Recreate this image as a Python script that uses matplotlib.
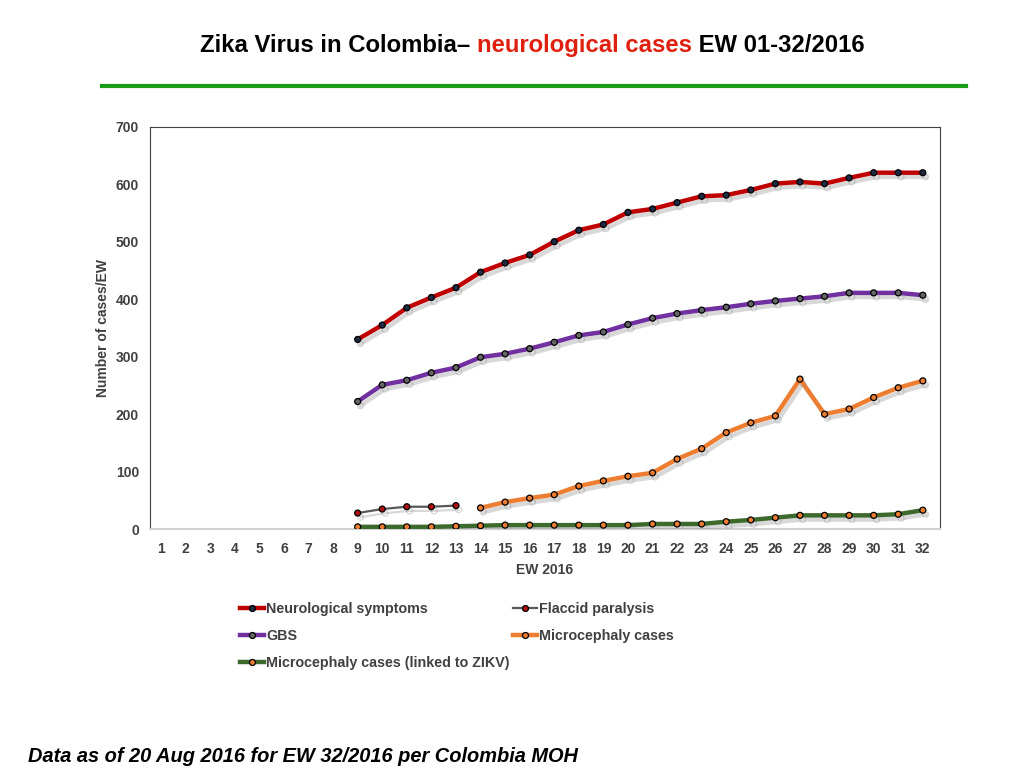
import numpy as np
import matplotlib
matplotlib.use("Agg")
import matplotlib.pyplot as plt
import matplotlib.patheffects as pe
from matplotlib.lines import Line2D

plt.rcParams['font.family'] = ['Liberation Sans', 'DejaVu Sans']

weeks_all = list(range(1, 33))

weeks_neuro = list(range(9, 33))
neuro = [330, 355, 385, 403, 420, 447, 463, 477, 500, 520, 530, 551,
         557, 568, 579, 581, 590, 601, 604, 601, 611, 620, 620, 620]
gbs = [222, 251, 259, 272, 281, 299, 305, 314, 325, 337, 343, 356,
       367, 375, 381, 386, 392, 397, 401, 405, 411, 411, 411, 407]

weeks_flaccid = [9, 10, 11, 12, 13]
flaccid = [28, 35, 39, 39, 41]

weeks_micro = list(range(14, 33))
micro = [37, 47, 54, 60, 75, 84, 92, 98, 122, 140, 168, 185, 197,
         261, 200, 209, 229, 246, 258]

weeks_zikv = list(range(9, 33))
micro_zikv = [4, 4, 4, 4, 5, 6, 7, 7, 7, 7, 7, 7,
              9, 9, 9, 13, 16, 20, 24, 24, 24, 24, 26, 33]

fig = plt.figure(figsize=(10.24, 7.68), dpi=100)
ax = fig.add_axes([0.1465, 0.311, 0.7715, 0.524])

shadow = [pe.SimpleLineShadow(offset=(2, -3), shadow_color='gray', alpha=0.3),
          pe.Normal()]

MS = 4.3
series = [
    (weeks_neuro, neuro, '#c00000', '#1f2a44', 3.2),
    (weeks_neuro, gbs, '#7030a0', '#666666', 3.2),
    (weeks_flaccid, flaccid, '#595959', '#b01010', 1.6),
    (weeks_micro, micro, '#ed7d31', '#ed7d31', 3.2),
    (weeks_zikv, micro_zikv, '#3c6a2c', '#ed7d31', 3.2),
]
for xs, ys, lc, mc, lw in series:
    ax.plot(xs, ys, color=lc, lw=lw, marker='o', ms=MS, mfc=mc, mec='black',
            mew=0.9, path_effects=shadow, zorder=3)

ax.set_xlim(0.55, 32.7)
ax.set_ylim(0, 700)
ax.set_xticks(weeks_all)
ax.set_xticklabels([str(w) for w in weeks_all])
ax.set_yticks(range(0, 701, 100))
ax.tick_params(length=0, labelsize=10, labelcolor='#404040')
ax.tick_params(axis='x', pad=9)
ax.tick_params(axis='y', pad=8)
for lab in ax.get_xticklabels() + ax.get_yticklabels():
    lab.set_fontweight('bold')
for sp in ax.spines.values():
    sp.set_color('#404040')
    sp.set_linewidth(0.8)
ax.spines['bottom'].set_color('#d0d0d0')
ax.spines['bottom'].set_linewidth(1.5)

ax.set_xlabel('EW 2016', fontsize=10, fontweight='bold', color='#404040', labelpad=5)
ax.set_ylabel('Number of cases/EW', fontsize=10, fontweight='bold', color='#404040', labelpad=4)

# legend (column-major order so rows read like the reference)
def handle(lc, mc, lw):
    return Line2D([0], [0], color=lc, lw=lw, marker='o', ms=MS, mfc=mc, mec='black', mew=0.9)

handles = [handle('#c00000', '#1f2a44', 3.2), handle('#7030a0', '#666666', 3.2),
           handle('#3c6a2c', '#ed7d31', 3.2),
           handle('#595959', '#b01010', 1.6), handle('#ed7d31', '#ed7d31', 3.2)]
labels = ['Neurological symptoms', 'GBS', 'Microcephaly cases (linked to ZIKV)',
          'Flaccid paralysis', 'Microcephaly cases']
leg = fig.legend(handles, labels, ncol=2, loc='upper left', bbox_to_anchor=(0.222, 0.233),
                 frameon=False, handlelength=1.65, handletextpad=0.15, columnspacing=0.25,
                 labelspacing=0.9, prop={'weight': 'bold', 'size': 10.3})
for t in leg.get_texts():
    t.set_color('#404040')

# title in pieces
fig.canvas.draw()
r = fig.canvas.get_renderer()
parts = [('Zika Virus in Colombia\u2013 ', 'black'), ('neurological cases', '#e0200f'),
         (' EW 01-32/2016', 'black')]
x = 0.195
for s, c in parts:
    t = fig.text(x, 0.941, s, fontsize=17.2, fontweight='bold', color=c, va='center', ha='left')
    bb = t.get_window_extent(renderer=r)
    x += bb.width / fig.bbox.width

fig.add_artist(Line2D([0.1, 0.943], [0.888, 0.888], color='#1a9a1a', lw=3))

fig.text(0.027, 0.002, 'Data as of 20 Aug 2016 for EW 32/2016 per Colombia MOH',
         fontsize=14.4, fontweight='bold', fontstyle='italic', color='black', va='bottom')

fig.savefig('out.png', dpi=100)
